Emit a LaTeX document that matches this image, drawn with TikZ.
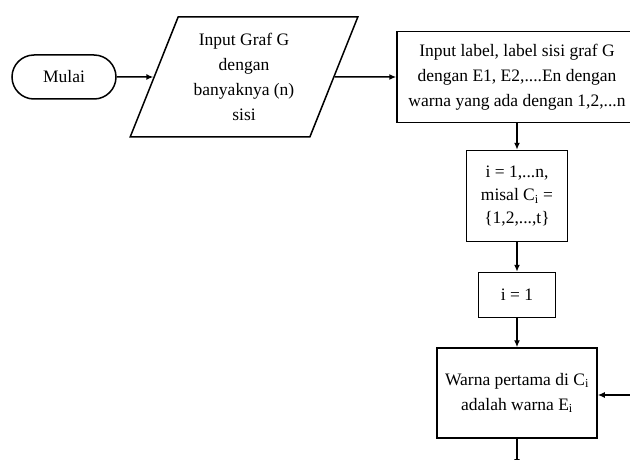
\documentclass[tikz,border=0pt]{standalone}
\usepackage{fontspec}
\setmainfont{Liberation Serif}
\usetikzlibrary{shapes.geometric,arrows.meta}
\begin{document}
\begin{tikzpicture}[x=1pt,y=-1pt,
  line width=1.5pt,
  every node/.style={font=\fontsize{17.5}{25}\selectfont, align=center, inner sep=2pt},
  box/.style={draw, rectangle},
  conn/.style={-{Latex[length=7pt,width=6pt]}}
]
\useasboundingbox (0,0) rectangle (630,460);
\clip (0,0) rectangle (630,460);
\node[box, rounded corners=22pt, minimum width=104pt, minimum height=44pt] (mulai) at (64,77) {Mulai};
\node[draw, trapezium, trapezium left angle=67.4, trapezium right angle=112.6,
      trapezium stretches=true, minimum width=228pt, minimum height=120pt] (input) at (244,77)
      {Input Graf G\\dengan\\banyaknya (n)\\sisi};
\node[box, minimum width=240pt, minimum height=91pt] (label) at (517,77)
      {Input label, label sisi graf G\\dengan E1, E2,....En dengan\\warna yang ada dengan 1,2,...n};
\node[box, minimum width=101pt, minimum height=91pt, font=\fontsize{17.5}{23}\selectfont] (init) at (517,196)
      {i = 1,...n,\\misal C\textsubscript{i} =\\\{1,2,...,t\}};
\node[box, minimum width=77pt, minimum height=45pt] (ione) at (517,295) {i = 1};
\node[box, minimum width=160pt, minimum height=90pt] (warna) at (517,393)
      {Warna pertama di C\textsubscript{i}\\adalah warna E\textsubscript{i}};
\coordinate (back) at (640,395);
\coordinate (down) at (517,466);
\draw[conn] (mulai) -- (input);
\draw[conn] (input) -- (label);
\draw[conn] (label) -- (init);
\draw[conn] (init) -- (ione);
\draw[conn] (ione) -- (warna);
\draw[conn] (back) -- (warna.east |- back);
\draw[conn] (warna) -- (down);
\end{tikzpicture}
\end{document}
